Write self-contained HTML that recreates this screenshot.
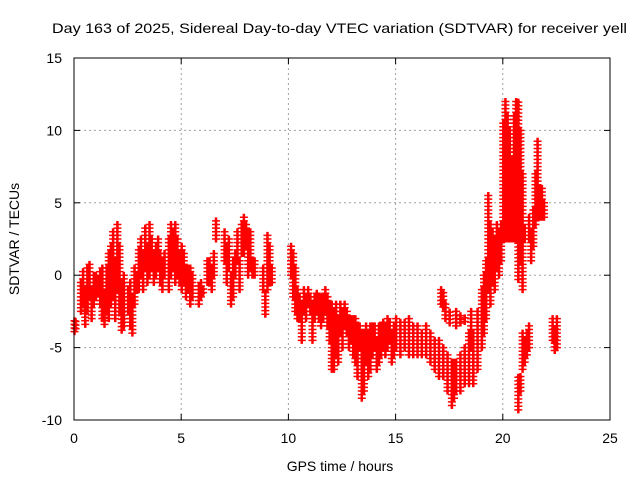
<!DOCTYPE html>
<html><head><meta charset="utf-8"><style>
body{margin:0;background:#fff}
svg{display:block;font-family:"Liberation Sans",sans-serif}
</style></head><body>
<svg id="c" width="640" height="480">
<text x="52" y="33" font-size="14" textLength="575" lengthAdjust="spacingAndGlyphs">Day 163 of 2025, Sidereal Day-to-day VTEC variation (SDTVAR) for receiver yell</text>
<text x="340" y="471" font-size="14" text-anchor="middle">GPS time / hours</text>
<text transform="translate(19,239) rotate(-90)" font-size="14" text-anchor="middle">SDTVAR / TECUs</text>
<g id="grid"></g><g id="marks"></g><g id="axes"></g>
</svg>
<script>
// columns of points: hour, lowest value, highest value
const colT=[0.0,0.05,0.3,0.4,0.5,0.6,0.7,0.8,0.9,1.0,1.1,1.2,1.3,1.4,1.5,1.6,1.7,1.8,1.9,2.0,2.1,2.2,2.3,2.5,2.6,2.7,2.8,2.9,3.0,3.1,3.2,3.3,3.4,3.5,3.6,3.7,3.8,3.9,4.0,4.1,4.2,4.4,4.5,4.6,4.7,4.8,4.9,5.0,5.1,5.2,5.3,5.4,5.5,5.8,5.9,6.0,6.2,6.3,6.4,6.5,6.6,7.0,7.1,7.2,7.3,7.4,7.5,7.6,7.7,7.8,7.9,8.0,8.1,8.2,8.3,8.4,8.8,8.9,9.0,9.1,9.2,10.1,10.2,10.3,10.4,10.5,10.6,10.7,10.8,10.9,11.0,11.1,11.2,11.3,11.4,11.5,11.6,11.7,11.8,11.9,12.0,12.1,12.2,12.3,12.4,12.5,12.6,12.7,12.8,12.9,13.0,13.1,13.2,13.3,13.4,13.5,13.6,13.7,13.8,13.9,14.0,14.1,14.2,14.3,14.4,14.5,14.6,14.7,14.8,14.9,15.0,15.2,15.4,15.6,15.8,16.0,16.2,16.4,16.6,16.8,17.0,17.1,17.2,17.3,17.2,17.4,17.5,17.6,17.7,17.8,17.8,18.0,18.0,18.2,18.2,18.4,18.5,18.6,18.8,19.0,19.1,19.2,19.3,19.4,19.5,19.6,19.7,19.8,19.9,20.0,20.1,20.2,20.3,20.4,20.5,20.6,20.7,20.7,20.8,20.8,20.9,20.9,21.0,21.0,21.1,21.2,21.2,21.3,21.4,21.5,21.6,21.7,21.8,21.9,22.3,22.4,22.5];
const colLo=[-3.9,-3.7,-2.5,-2,-3.4,-2.5,-1.5,-3,-2,-1.5,-1.2,-2,-3,-3.4,-2.5,-3,-2,-1.5,-3,-1,-2.5,-3.8,-3.5,-2.5,-3.5,-4,-2,-1,-1,0,-1,0.5,-0.5,0,0.5,-0.5,0,0.5,-0.5,-1,0,-1,0,0.5,-0.5,0,-0.5,-1,-0.5,-1.5,-1,-2,-1.5,-2,-1.5,-1.2,-0.5,-0.5,-1,0,2.5,1,-0.5,0.5,-2,-1.5,0,1,-1,1.5,1.5,2,0,0.5,0,0,-1,-2.7,-1,-0.5,-0.5,0,-1.5,-2.5,-3,-3,-4.5,-2.5,-3,-2,-2.5,-4.5,-3,-2.5,-3,-3.5,-3,-2.5,-3.5,-4.5,-6.5,-6.5,-5.5,-6,-4,-5,-3.5,-4,-5,-4.5,-5.5,-6,-7,-5,-8.5,-8,-6,-7,-6.5,-5.5,-5,-6.5,-6,-5.5,-5,-5.5,-5,-4.5,-6,-5.5,-5,-5.5,-5,-5.5,-5.5,-5.5,-5.5,-5.5,-6,-6.5,-7,-2,-2.2,-3,-7,-8,-3.3,-9,-8.5,-3.5,-8,-8,-3.3,-7.5,-3.2,-7.5,-5,-7.5,-6.5,-5,-4,-3,-1,-2,-0.5,-1,0.5,0,1,2.5,2.5,2.5,2.5,2.5,2.5,2.5,-0.3,-9.3,-8,1,-6.5,-1,-6,2.5,-5.5,-5,2.5,1,2,3.5,4,4,4,4,-4.5,-5.2,-5];
const colHi=[-3.1,-3.2,-0.5,0.3,-0.8,0.5,0.8,-1,0.2,0,-0.2,0.3,0.5,-1,0.5,1.5,2,3,1,3.5,2,-0.5,0,-1,-0.5,-1.5,0.5,0,1.8,2.5,1.5,3.3,2,3.5,2.5,1.5,2.2,2.5,1.5,1,1.5,2.5,3.5,3,3.5,2.5,1.5,2,1.5,0.5,0.5,0.5,0,-0.7,-0.5,-0.8,1,1.2,0.5,1.5,3.9,3,2,2.5,0,1,1.5,3,1,3.5,4,3.5,3,3,1,1,0.5,-1,2.8,2,0.5,2,1.5,0.5,-1,-1.5,-2,-1,-1.5,-1,-1.3,-2,-1.5,-1.2,-1.5,-1.5,-1.5,-1,-1.5,-2,-2,-2.5,-2,-3,-2,-2.5,-2,-2.5,-3,-2.8,-3,-3,-3.5,-3.5,-4,-4,-3.5,-4,-3.5,-3.5,-3.5,-4.5,-3.5,-3.5,-3.2,-3.5,-3,-3.2,-4,-3.5,-3,-3.2,-3.2,-3,-3.5,-3.5,-3.8,-3.5,-4,-4.5,-4.5,-0.8,-1.2,-1.8,-5,-5.5,-2.5,-6,-6,-2.5,-6,-5.5,-2.6,-5,-2.8,-4,-2.5,-4,-2.5,-1,0,1,5.5,3.5,3,2.5,3.5,3,3.5,10.5,12,11,10,8,11,12,12,-7,-7,10,-4,7,-4.5,3.3,-4,-3.5,4,3,4.5,7,9.3,6,6,5,-3,-3.5,-3];

const X=t=>74+t*(536/25), Y=v=>420-(v+10)*(362/25);
const NS="http://www.w3.org/2000/svg";
const grid=document.getElementById('grid'),axes=document.getElementById('axes'),marks=document.getElementById('marks');
const xTicks=[0,5,10,15,20,25], yTicks=[-10,-5,0,5,10,15];
function el(tag,attrs,parent){const e=document.createElementNS(NS,tag);for(const k in attrs)e.setAttribute(k,attrs[k]);parent.appendChild(e);return e;}
xTicks.forEach(t=>{
 if(t>0&&t<25){const g=el('line',{x1:X(t),x2:X(t),y1:58,y2:420,stroke:'#a0a0a0','stroke-dasharray':'2,3'},grid);
 
 }
 el('line',{x1:X(t),x2:X(t),y1:420,y2:414,stroke:'#000'},axes);
 el('line',{x1:X(t),x2:X(t),y1:58,y2:64,stroke:'#000'},axes);
 const tx=el('text',{x:X(t),y:443,'font-size':14,'text-anchor':'middle'},axes);tx.textContent=t;
 
 
});
yTicks.forEach(v=>{
 if(v>-10&&v<15){const g=el('line',{x1:74,x2:610,y1:Y(v),y2:Y(v),stroke:'#a0a0a0','stroke-dasharray':'2,3'},grid);
 
 }
 el('line',{x1:74,x2:80,y1:Y(v),y2:Y(v),stroke:'#000'},axes);
 el('line',{x1:604,x2:610,y1:Y(v),y2:Y(v),stroke:'#000'},axes);
 const tx=el('text',{x:62,y:Y(v)+5,'font-size':14,'text-anchor':'end'},axes);tx.textContent=v;
 
 
});
const fr=el('rect',{x:74,y:58,width:536,height:362,fill:'none',stroke:'#000'},axes);


colT.forEach((t,i)=>{
 let d='';
 const x=X(t);
 for(let v=colLo[i];v<=colHi[i]+1e-6;v+=0.25){
  const y=Y(v);d+=`M${x-3.5} ${y}h7M${x} ${y-3.5}v7M${x+1-3.5} ${y}h7M${x+1} ${y-3.5}v7`;
 }
 const p=el('path',{d:d,stroke:'#ff0000','stroke-width':1.5,fill:'none'},marks);
 
 
});
</script>
</body></html>
